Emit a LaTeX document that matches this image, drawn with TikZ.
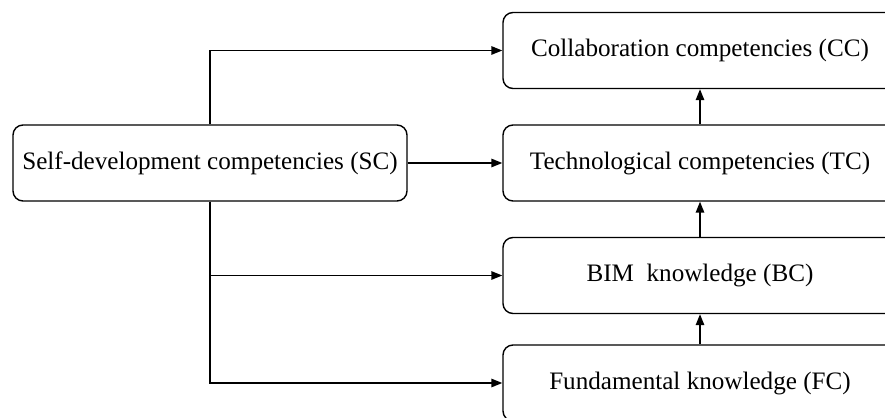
\documentclass[tikz,border=0pt]{standalone}
\usepackage{fontspec}
\setmainfont{Liberation Serif}
\usetikzlibrary{arrows.meta}

\begin{document}
\begin{tikzpicture}
        \tikzstyle{box}=[draw,rounded corners=0.2cm,line width=0.8pt,minimum width=7.88cm,minimum height=1.52cm,inner sep=0pt,font=\fontsize{14.3}{17}\selectfont]
        \tikzstyle{link}=[line width=0.8pt,-{Triangle[length=0.22cm,width=0.17cm]}]
        \clip (0,0) rectangle (17.7,8.34);
        \node[box] (sc) at (4.2,5.08) {Self-development competencies (SC)};
        \node[box] (cc) at (14.0,7.33) {Collaboration competencies (CC)};
        \node[box] (tc) at (14.0,5.08) {Technological competencies (TC)};
        \node[box] (bc) at (14.0,2.83) {BIM\ \ knowledge (BC)};
        \node[box] (fc) at (14.0,0.68) {Fundamental knowledge (FC)};
        \draw[link] (sc.north) |- (cc.west);
        \draw[link] (sc.east) -- (tc.west);
        \draw[link] (sc.south) |- (bc.west);
        \draw[link] (sc.south) |- (fc.west);
        \draw[link] (fc.north) -- (bc.south);
        \draw[link] (bc.north) -- (tc.south);
        \draw[link] (tc.north) -- (cc.south);
      \end{tikzpicture}
\end{document}
